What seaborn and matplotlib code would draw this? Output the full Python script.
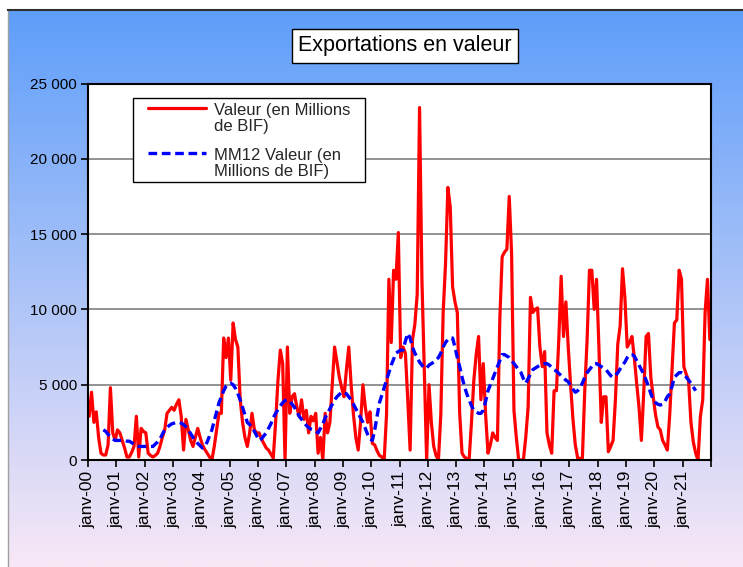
"""
Exportations en valeur : valeur mensuelle et moyenne mobile 12 mois (2000-2021)
"""

import numpy as np
import pandas as pd
import matplotlib
matplotlib.use("Agg")
import matplotlib.pyplot as plt
import seaborn as sns
from matplotlib.patches import Rectangle

nan = np.nan

# valeur mensuelle (en Millions de BIF), janv-00 .. déc-21, une ligne par année
valeur = [
    2900, 4500, 2500, 3200, 1500, 450, 330, 330, 1000, 4800, 1800, 1300,          # 2000
    2000, 1800, 1300, 800, 200, 200, 500, 900, 2900, 200, 2100, 1900,             # 2001
    1800, 450, 300, 200, 300, 450, 900, 1500, 2000, 3100, 3300, 3500,             # 2002
    3300, 3700, 4000, 2900, 660, 2700, 2000, 1300, 900, 1500, 2100, 1500,         # 2003
    1000, 700, 450, 200, 0, 900, 2000, 3100, 3100, 8100, 6800, 8100,              # 2004
    5300, 9100, 8000, 7500, 4000, 2500, 1500, 900, 1800, 3100, 2000, 1800,        # 2005
    1800, 1400, 1100, 800, 660, 400, 130, 2500, 5300, 7300, 6400, 0,             # 2006
    7500, 3100, 4200, 4400, 3500, 2900, 4000, 2700, 3300, 1800, 2900, 2600,       # 2007
    3100, 450, 1500, 0, 3100, 1800, 2500, 5000, 7500, 6500, 5500, 4800,           # 2008
    4200, 6000, 7500, 5000, 3000, 1500, 660, 2500, 5000, 3500, 2500, 3200,        # 2009
    1100, 1000, 600, 300, 200, 0, 3000, 12000, 7800, 12600, 12000, 15100,         # 2010
    6800, 7500, 7100, 4000, 660, 8000, 9000, 11000, 23400, 12000, 6000, 0,        # 2011
    5000, 2500, 900, 300, 0, 3000, 9800, 13000, 18100, 16800, 11500, 10500,       # 2012
    9800, 3100, 450, 200, 100, 0, 2500, 5300, 7000, 8200, 4000, 6400,             # 2013
    3000, 450, 1000, 1800, 1500, 1300, 9300, 13500, 13800, 14000, 17500, 13700,   # 2014
    3300, 1500, 0, 0, 0, 1500, 3500, 10800, 9800, 10000, 10100, 7500,             # 2015
    6200, 7200, 1800, 1000, 450, 4600, 4600, 8000, 12200, 8200, 10500, 7500,      # 2016
    5000, 2700, 1000, 130, 100, 130, 4600, 8000, 12600, 12600, 10000, 12000,      # 2017
    7500, 2500, 4200, 4200, 550, 900, 1300, 4000, 7700, 8900, 12700, 10800,       # 2018
    7500, 7800, 8200, 6800, 5100, 3500, 1300, 4500, 8200, 8400, 5500, 4200,       # 2019
    3000, 2200, 2000, 1300, 1000, 660, 3000, 6000, 9100, 9300, 12600, 12000,      # 2020
    6200, 5700, 5300, 2500, 1200, 450, 0, 2900, 4000, 9800, 12000, 8000,          # 2021
]

# MM12 valeur (moyenne mobile centrée)
mm12 = [
    nan, nan, nan, nan, nan, nan, 2000, 1900, 1700, 1550, 1400, 1300,             # 2000
    1300, 1300, 1300, 1300, 1250, 1250, 1150, 1050, 950, 900, 900, 900,           # 2001
    900, 900, 900, 900, 1050, 1200, 1400, 1700, 2000, 2150, 2300, 2400,           # 2002
    2450, 2500, 2500, 2450, 2350, 2200, 2000, 1750, 1500, 1300, 1100, 950,        # 2003
    800, 900, 1200, 1600, 2000, 2600, 3200, 3800, 4200, 4600, 4900, 5050,         # 2004
    5100, 5000, 4750, 4400, 4000, 3500, 3000, 2500, 2350, 2200, 1900, 1600,       # 2005
    1300, 1400, 1600, 1800, 2100, 2400, 2800, 3100, 3350, 3600, 3800, 3950,       # 2006
    4000, 3900, 3700, 3500, 3200, 2900, 2700, 2500, 2300, 2150, 2050, 2000,       # 2007
    1900, 1800, 2100, 2400, 2800, 3100, 3400, 3700, 4000, 4200, 4350, 4500,       # 2008
    4500, 4400, 4200, 4000, 3700, 3400, 3100, 2800, 2500, 2100, 1700, 1400,       # 2009
    1300, 2000, 2900, 3800, 4300, 4800, 5300, 5800, 6300, 6700, 7100, 7200,       # 2010
    7300, 7300, 7900, 8400, 8100, 7500, 7100, 6800, 6500, 6300, 6100, 6100,       # 2011
    6300, 6400, 6500, 6650, 6800, 7100, 7500, 7800, 8000, 8100, 8100, 7500,       # 2012
    6800, 6200, 5500, 4900, 4400, 4000, 3600, 3300, 3200, 3100, 3100, 3300,       # 2013
    3900, 4600, 5000, 5400, 5800, 6200, 6600, 7000, 7000, 6900, 6800, 6600,       # 2014
    6400, 6200, 6000, 5800, 5400, 5100, 5400, 5700, 6000, 6100, 6200, 6300,       # 2015
    6350, 6400, 6400, 6300, 6150, 6000, 5900, 5750, 5600, 5450, 5300, 5200,       # 2016
    4900, 4700, 4500, 4600, 4800, 5100, 5500, 5800, 6000, 6200, 6400, 6400,       # 2017
    6300, 6200, 6100, 6000, 5800, 5600, 5500, 5600, 5800, 6050, 6300, 6500,       # 2018
    6800, 7000, 7000, 6900, 6600, 6300, 6000, 5700, 5300, 4900, 4400, 4000,       # 2019
    3800, 3700, 3650, 3700, 3900, 4200, 4400, 4900, 5500, 5650, 5800, 5800,       # 2020
    5700, 5500, 5300, 5100, 4850, 4600, nan, nan, nan, nan, nan, nan,             # 2021
]

# étiquettes de l'axe des x (une par année)
annees = ["janv-00", "janv-01", "janv-02", "janv-03", "janv-04", "janv-05",
          "janv-06", "janv-07", "janv-08", "janv-09", "janv-10", "janv-11",
          "janv-12", "janv-13", "janv-14", "janv-15", "janv-16", "janv-17",
          "janv-18", "janv-19", "janv-20", "janv-21"]

y_ticks = [0, 5000, 10000, 15000, 20000, 25000]

# dataframe
df = pd.DataFrame({"mois": np.arange(len(valeur)), "valeur": valeur, "mm12": mm12})

sns.set_theme(style="white")
plt.rcParams["font.family"] = ["Liberation Sans", "DejaVu Sans"]

W, H = 743, 567
fig = plt.figure(figsize=(W / 100, H / 100), dpi=100)
fig.patch.set_facecolor("white")

# fond dégradé bleu -> rose
bg = fig.add_axes([8 / W, 0, (W - 8) / W, (H - 10) / H])
top = np.array([94, 158, 250]) / 255
bottom = np.array([248, 232, 246]) / 255
t = np.linspace(0, 1, 256)[:, None, None]
grad = top * (1 - t) + bottom * t
grad = np.repeat(grad, 2, axis=1)
bg.imshow(grad, aspect="auto", extent=(0, 1, 0, 1))
bg.set_xticks([])
bg.set_yticks([])
for side in ["right", "bottom"]:
    bg.spines[side].set_visible(False)
bg.spines["top"].set_color("#303030")
bg.spines["top"].set_linewidth(1.5)
bg.spines["left"].set_color("#a0a0a0")
bg.spines["left"].set_linewidth(1.0)

# zone de tracé
ax = fig.add_axes([88 / W, 1 - 460 / H, (711 - 88) / W, (460 - 83.5) / H])
ax.set_facecolor("white")

sns.lineplot(data=df, x="mois", y="valeur", ax=ax, color="#ff0000", linewidth=2.3,
             label="Valeur (en Millions\nde BIF)")
sns.lineplot(data=df, x="mois", y="mm12", ax=ax, color="#0000ff", linewidth=2.4,
             label="MM12 Valeur (en\nMillions de BIF)")
ax.lines[1].set_dashes((2.6, 1.4))

ax.set_xlim(-0.5, len(valeur) - 0.5)
ax.set_ylim(0, 25000)

# graduations
ax.set_yticks(y_ticks)
ax.set_yticklabels([f"{v:,}".replace(",", " ") for v in y_ticks])
ax.set_xticks(np.arange(len(annees) + 1) * 12 - 0.5)
ax.set_xticklabels(annees + [""], rotation=90)
ax.tick_params(axis="both", direction="out", length=5, width=1.2, color="black",
               labelsize=11, labelcolor="black", pad=3)
ax.tick_params(axis="x", labelsize=12.5)
ax.tick_params(left=True, bottom=True)
ax.set_xlabel("")
ax.set_ylabel("")

ax.yaxis.grid(True, color="#808080", linewidth=1.2)
ax.xaxis.grid(False)
ax.set_axisbelow(True)
for s in ax.spines.values():
    s.set_color("black")
    s.set_linewidth(1.5)

# cadre de la légende (boîte Excel plus large que son contenu)
cadre = Rectangle((133 / W, 1 - 182 / H), (365 - 133) / W, (182 - 98) / H,
                  transform=fig.transFigure, facecolor="white", edgecolor="black",
                  linewidth=1.0, zorder=4)
ax.add_patch(cadre)
cadre.set_clip_on(False)

# légende
leg = ax.legend(loc="upper left", bbox_to_anchor=(148 / W, 1 - 103 / H),
                bbox_transform=fig.transFigure, borderaxespad=0, fontsize=12,
                frameon=False, handlelength=3.5, handletextpad=0.45,
                labelspacing=0.8, borderpad=0)
leg.set_zorder(5)
for txt in leg.get_texts():
    txt.set_linespacing(1.1)
# trait de légende aligné sur la première ligne du libellé
for h in leg.legend_handles:
    h.set_ydata(np.asarray(h.get_ydata(), dtype=float) + 7.5)

# titre
fig.text(405 / W, 1 - 46 / H, "Exportations en valeur", ha="center", va="center",
         fontsize=15.5, color="black",
         bbox=dict(boxstyle="square,pad=0.3", facecolor="white", edgecolor="black",
                   linewidth=1.0))

fig.savefig("out.png", dpi=100)
